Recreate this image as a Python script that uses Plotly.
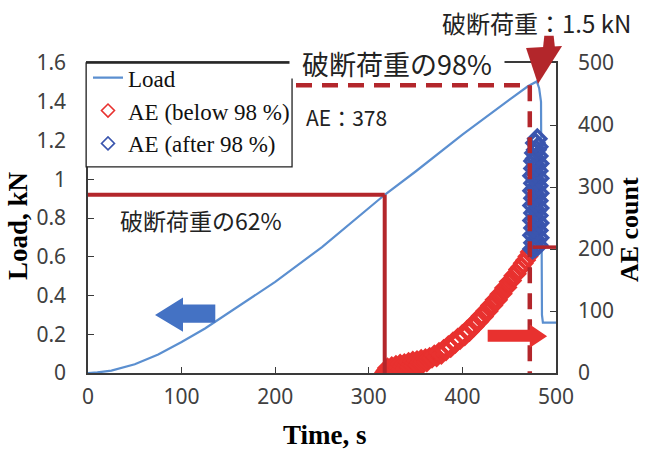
import plotly.graph_objects as go

# ---------------- data ----------------
t_load = [0, 10, 25, 50, 75, 100, 125, 150, 175, 200, 250, 300, 317, 350, 400,
          450, 470, 479.5, 482, 484, 485, 486, 500]
load = [0, 0.003, 0.012, 0.045, 0.095, 0.16, 0.23, 0.31, 0.39, 0.47, 0.65, 0.85,
        0.92, 1.04, 1.23, 1.41, 1.48, 1.505, 1.47, 1.40, 0.30, 0.26, 0.26]

red_t = [317, 318.5, 320, 321.5, 323, 324.5, 326, 327.5, 329, 330.5, 332, 333.5,
         335, 336.5, 338, 339.5, 341, 342.5, 344, 345.5, 347, 348.5, 350, 351.5,
         353, 354.5, 356, 357.5, 359, 360.5, 362, 363.5, 365,
         367.5, 370, 372.5, 375, 377.5, 380, 382.5, 385, 387.5, 390, 392.5, 395,
         397.5, 400, 402.5, 405, 407.5, 410, 412.5, 415, 417.5, 420, 422.5, 425,
         427.5, 430, 432.5, 435, 437.5, 440, 442.5, 445, 447.5, 450, 452.5, 455,
         457.5, 460, 462.5, 465, 467.5, 470, 472.5]
red_ae = [1, 4, 8, 2, 6, 10, 3, 7, 12, 5, 9, 14, 6, 11, 15, 8, 13, 17, 10, 14,
          19, 12, 16, 20, 13, 17, 22, 15, 19, 23, 18, 22, 25,
          24, 29, 26, 33, 30, 38, 36, 44, 41, 50, 48, 56, 54, 62, 60, 69, 67, 76,
          75, 84, 83, 92, 91, 100, 100, 109, 109, 118, 118, 127, 128, 137, 138,
          147, 149, 157, 160, 167, 171, 177, 182, 188, 195]

blue_t = [475, 478, 481, 476, 479, 482, 475, 478, 481, 476, 479, 482, 475, 478,
          481, 476, 479, 482, 475, 478, 481, 476, 479, 482, 475, 478, 481, 476,
          479, 482, 475, 478, 481, 476, 479, 482, 476, 478, 481, 477, 479, 481,
          478, 480]
blue_ae = [200, 203, 206, 210, 214, 218, 222, 226, 230, 234, 238, 242, 246, 250,
           254, 258, 262, 266, 270, 274, 278, 282, 286, 290, 294, 298, 302, 306,
           310, 314, 318, 322, 326, 330, 334, 338, 342, 346, 350, 355, 360, 365,
           371, 378]

x_ticks = [0, 100, 200, 300, 400, 500]
load_ticks = [0, 0.2, 0.4, 0.6, 0.8, 1, 1.2, 1.4, 1.6]
ae_ticks = [0, 100, 200, 300, 400, 500]

load62 = 0.92
t62 = 317
load98 = 1.485
t98 = 472
ae98 = 203

# ---------------- styles ----------------
DARKRED = "#B3262B"
RED = "#E8312F"
BLUE_LINE = "#5B8FD0"
BLUE_MK = "#3A55AE"
BLUE_ARROW = "#4472C4"
AXC = "#3a3a3a"
TICKFONT = dict(family="Noto Sans", size=21, color="#404040")
SERIF_B = dict(family="Liberation Serif", size=27, color="#000000")
JP = "Noto Sans CJK JP"

fig = go.Figure()
fig.add_trace(go.Scatter(x=t_load, y=load, mode="lines", name="Load",
                         line=dict(color=BLUE_LINE, width=2.2), yaxis="y"))
fig.add_trace(go.Scatter(x=red_t, y=red_ae, mode="markers", name="AE (below 98 %)",
                         marker=dict(symbol="diamond-open", size=13, color=RED,
                                     line=dict(width=3.2, color=RED)),
                         yaxis="y2", showlegend=False))
fig.add_trace(go.Scatter(x=blue_t, y=blue_ae, mode="markers", name="AE (after 98 %)",
                         marker=dict(symbol="diamond-open", size=13, color=BLUE_MK,
                                     line=dict(width=3.5, color=BLUE_MK)),
                         yaxis="y2", showlegend=False))
# legend entries with the small thin diamonds shown in the legend box
fig.add_trace(go.Scatter(x=[None], y=[None], mode="markers", name="AE (below 98 %)",
                         marker=dict(symbol="diamond-open", size=10, color=RED,
                                     line=dict(width=1.6, color=RED)),
                         yaxis="y2"))
fig.add_trace(go.Scatter(x=[None], y=[None], mode="markers", name="AE (after 98 %)",
                         marker=dict(symbol="diamond-open", size=10, color=BLUE_MK,
                                     line=dict(width=1.6, color=BLUE_MK)),
                         yaxis="y2"))

shapes = []
# 62% lines
shapes.append(dict(type="line", xref="x", yref="y", x0=0, x1=t62, y0=load62, y1=load62,
                   line=dict(color=DARKRED, width=4), layer="above"))
shapes.append(dict(type="line", xref="x", yref="y", x0=t62, x1=t62, y0=load62, y1=0,
                   line=dict(color=DARKRED, width=4), layer="above"))
# 98% dashed lines
shapes.append(dict(type="line", xref="x", yref="y", x0=0, x1=t98, y0=load98, y1=load98,
                   line=dict(color=DARKRED, width=4.5, dash="16px,10px"), layer="above"))
shapes.append(dict(type="line", xref="x", yref="y", x0=t98, x1=t98, y0=load98, y1=0,
                   line=dict(color=DARKRED, width=4.5, dash="16px,10px"), layer="above"))
# short AE level line at right
shapes.append(dict(type="line", xref="x", yref="y2", x0=475, x1=500, y0=ae98, y1=ae98,
                   line=dict(color=DARKRED, width=3.5), layer="above"))
# blue left arrow (load axis)
shapes.append(dict(type="path", xref="x", yref="y",
                   path="M 136 0.353 L 101.5 0.353 L 101.5 0.39 L 71.6 0.30 L 101.5 0.213 L 101.5 0.26 L 136 0.26 Z",
                   fillcolor=BLUE_ARROW, line=dict(width=0), layer="above"))
# red right arrow (AE axis)
shapes.append(dict(type="path", xref="x", yref="y",
                   path="M 427 0.223 L 472 0.223 L 472 0.250 L 490.5 0.19 L 472 0.130 L 472 0.161 L 427 0.161 Z",
                   fillcolor=RED, line=dict(width=0), layer="above"))
# red down arrow at top (paper coords)
shapes.append(dict(type="path", xref="paper", yref="paper",
                   path="M 0.936 1.048 L 1.013 1.055 L 0.9615 0.932 Z",
                   fillcolor=DARKRED, line=dict(width=0), layer="above"))
shapes.append(dict(type="path", xref="paper", yref="paper",
                   path="M 0.975 1.088 L 0.995 1.088 L 0.998 1.045 L 0.972 1.045 Z",
                   fillcolor=DARKRED, line=dict(width=0), layer="above"))
# legend frame (white box behind the legend entries)
shapes.append(dict(type="rect", xref="paper", yref="paper",
                   x0=-0.004, x1=0.436, y0=0.665, y1=1.0,
                   fillcolor="white", line=dict(color="#222222", width=1.3),
                   layer="above"))

annotations = [
    dict(text="破断荷重の98%", xref="paper", yref="paper", x=0.66, y=1.0,
         xanchor="center", yanchor="middle", showarrow=False, bgcolor="white",
         font=dict(family=JP, size=27, color="#222222"), borderpad=0,
         height=30, width=214, valign="middle"),
    dict(text="破断荷重：1.5 kN", xref="paper", yref="paper", x=1.165, y=1.13,
         xanchor="right", yanchor="middle", showarrow=False,
         font=dict(family=JP, size=24, color="#222222")),
    dict(text="AE：378", xref="paper", yref="paper", x=0.462, y=0.825,
         xanchor="left", yanchor="middle", showarrow=False,
         font=dict(family=JP, size=21, color="#222222")),
    dict(text="破断荷重の62%", xref="paper", yref="paper", x=0.064, y=0.494,
         xanchor="left", yanchor="middle", showarrow=False,
         font=dict(family=JP, size=23, color="#222222")),
    # axis titles
    dict(text="<b>Load, kN</b>", xref="paper", yref="paper", x=-0.1496, y=0.477,
         xanchor="center", yanchor="middle", textangle=-90, showarrow=False,
         font=SERIF_B),
    dict(text="<b>AE count</b>", xref="paper", yref="paper", x=1.156, y=0.461,
         xanchor="center", yanchor="middle", textangle=-90, showarrow=False,
         font=dict(family="Liberation Serif", size=26, color="#000000")),
    dict(text="<b>Time, s</b>", xref="paper", yref="paper", x=0.506, y=-0.20,
         xanchor="center", yanchor="middle", showarrow=False, font=SERIF_B),
]

fig.update_layout(
    width=645, height=450,
    margin=dict(l=88, r=89, t=63, b=77),
    paper_bgcolor="white", plot_bgcolor="white",
    showlegend=True,
    legend=dict(x=0, y=1.022, xanchor="left", yanchor="top",
                bgcolor="rgba(0,0,0,0)", borderwidth=0,
                font=dict(family="Liberation Serif", size=23, color="#111111"),
                tracegroupgap=0),
    xaxis=dict(range=[0, 500], tickvals=x_ticks, ticks="inside", ticklen=6,
               showgrid=False, zeroline=False, showline=True, linecolor=AXC,
               linewidth=1.5, mirror=True, tickfont=TICKFONT, tickcolor=AXC,
               ticklabelstandoff=4, automargin=False),
    yaxis=dict(range=[0, 1.6], tickvals=load_ticks, ticks="inside", ticklen=6,
               showgrid=False, zeroline=False, showline=True, linecolor=AXC,
               linewidth=1.5, mirror=True, tickfont=TICKFONT, tickcolor=AXC,
               ticklabelstandoff=16, automargin=False),
    yaxis2=dict(range=[0, 500], tickvals=ae_ticks, ticks="inside", ticklen=6,
                overlaying="y", side="right", showgrid=False, zeroline=False,
                showline=True, linecolor=AXC, linewidth=1.5,
                tickfont=TICKFONT, tickcolor=AXC, ticklabelstandoff=16,
                automargin=False),
    shapes=shapes,
    annotations=annotations,
)

fig.write_html("out.html", config={"displayModeBar": False},
               post_script="document.body.style.margin='0';document.body.style.padding='0';")
